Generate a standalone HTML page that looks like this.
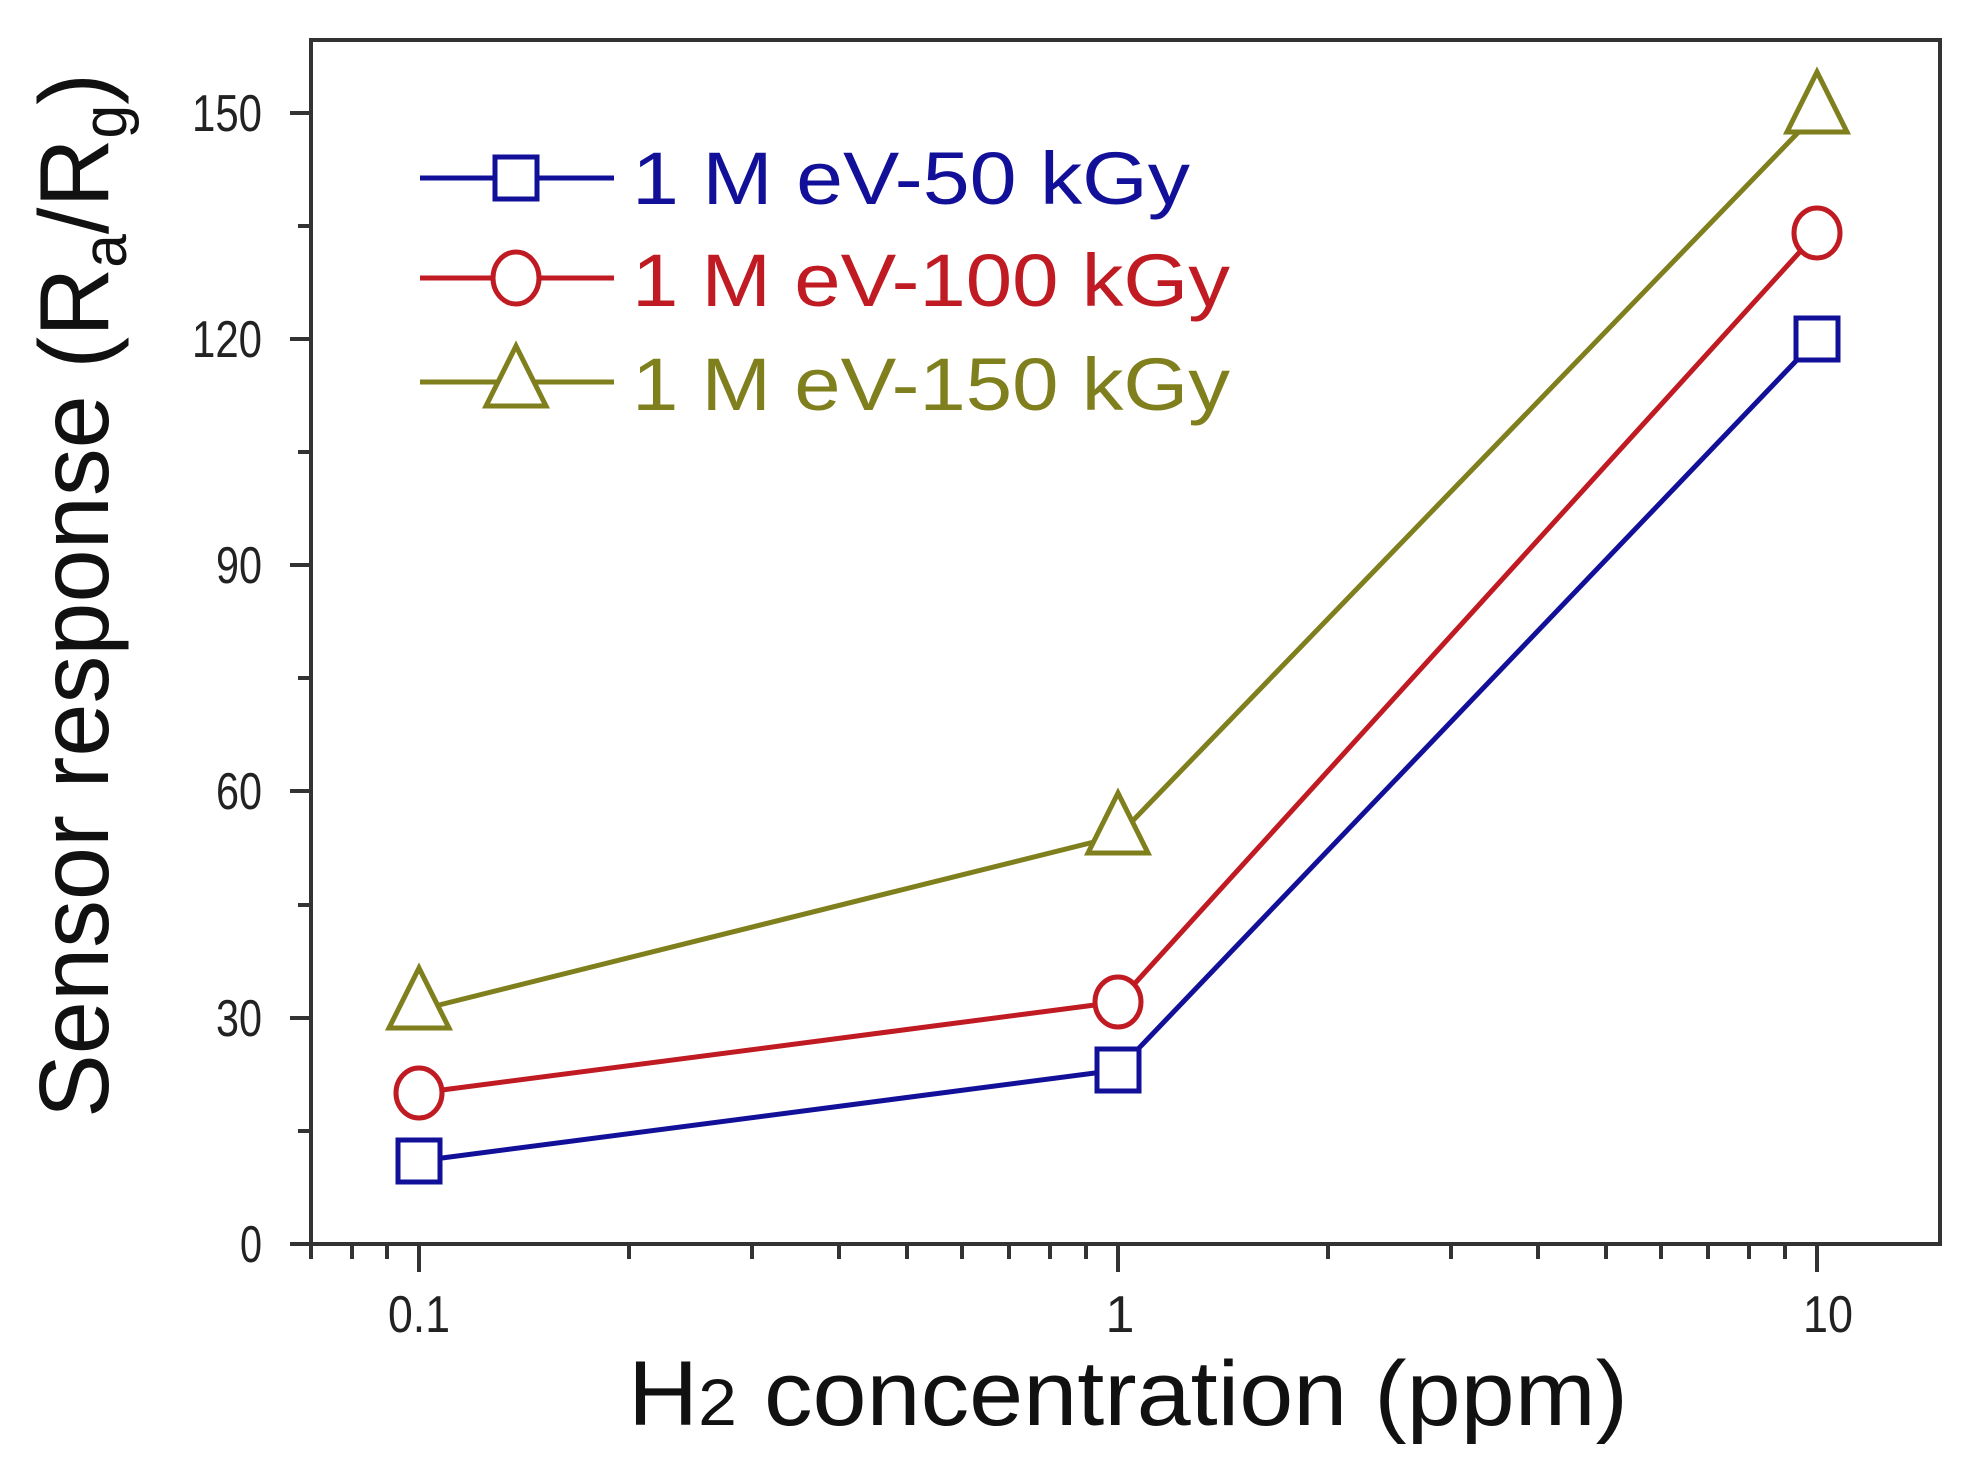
<!DOCTYPE html>
<html><head><meta charset="utf-8"><style>html,body{margin:0;padding:0;background:#fff}svg{display:block}</style></head>
<body>
<svg width="1980" height="1482" viewBox="0 0 1980 1482" xmlns="http://www.w3.org/2000/svg" font-family="Liberation Sans, Arial, sans-serif">
<rect width="1980" height="1482" fill="#fff"/>
<rect x="311" y="40" width="1629" height="1204" fill="none" stroke="#333" stroke-width="4"/>
<g stroke="#333" stroke-width="4">
<line x1="290" y1="1244" x2="311" y2="1244"/>
<line x1="290" y1="1018" x2="311" y2="1018"/>
<line x1="290" y1="791" x2="311" y2="791"/>
<line x1="290" y1="565" x2="311" y2="565"/>
<line x1="290" y1="339" x2="311" y2="339"/>
<line x1="290" y1="113" x2="311" y2="113"/>
<line x1="298" y1="1131" x2="311" y2="1131"/>
<line x1="298" y1="905" x2="311" y2="905"/>
<line x1="298" y1="678" x2="311" y2="678"/>
<line x1="298" y1="452" x2="311" y2="452"/>
<line x1="298" y1="226" x2="311" y2="226"/>
</g>
<g font-size="52" text-anchor="end" fill="#222">
<text x="262" y="1262" textLength="22" lengthAdjust="spacingAndGlyphs">0</text>
<text x="262" y="1036" textLength="46" lengthAdjust="spacingAndGlyphs">30</text>
<text x="262" y="809" textLength="46" lengthAdjust="spacingAndGlyphs">60</text>
<text x="262" y="583" textLength="46" lengthAdjust="spacingAndGlyphs">90</text>
<text x="262" y="357" textLength="70" lengthAdjust="spacingAndGlyphs">120</text>
<text x="262" y="131" textLength="70" lengthAdjust="spacingAndGlyphs">150</text>
</g>
<g stroke="#333" stroke-width="4">
<line x1="311" y1="1244" x2="311" y2="1259"/>
<line x1="352" y1="1244" x2="352" y2="1259"/>
<line x1="387" y1="1244" x2="387" y2="1259"/>
<line x1="419" y1="1244" x2="419" y2="1272"/>
<line x1="629" y1="1244" x2="629" y2="1259"/>
<line x1="752" y1="1244" x2="752" y2="1259"/>
<line x1="839" y1="1244" x2="839" y2="1259"/>
<line x1="907" y1="1244" x2="907" y2="1259"/>
<line x1="962" y1="1244" x2="962" y2="1259"/>
<line x1="1009" y1="1244" x2="1009" y2="1259"/>
<line x1="1050" y1="1244" x2="1050" y2="1259"/>
<line x1="1086" y1="1244" x2="1086" y2="1259"/>
<line x1="1118" y1="1244" x2="1118" y2="1272"/>
<line x1="1328" y1="1244" x2="1328" y2="1259"/>
<line x1="1451" y1="1244" x2="1451" y2="1259"/>
<line x1="1538" y1="1244" x2="1538" y2="1259"/>
<line x1="1606" y1="1244" x2="1606" y2="1259"/>
<line x1="1661" y1="1244" x2="1661" y2="1259"/>
<line x1="1708" y1="1244" x2="1708" y2="1259"/>
<line x1="1749" y1="1244" x2="1749" y2="1259"/>
<line x1="1785" y1="1244" x2="1785" y2="1259"/>
<line x1="1817" y1="1244" x2="1817" y2="1272"/>
</g>
<g font-size="52" text-anchor="middle" fill="#222">
<text x="419" y="1332" textLength="62" lengthAdjust="spacingAndGlyphs">0.1</text>
<text x="1120" y="1332">1</text>
<text x="1828" y="1332" textLength="50" lengthAdjust="spacingAndGlyphs">10</text>
</g>
<g fill="none" stroke-width="5">
<polyline points="419,1161 1118,1070 1817,339" stroke="#121098"/>
<polyline points="419,1093 1118,1002 1817,233" stroke="#c01a22"/>
<polyline points="419,1010 1118,836 1817,113" stroke="#7f7f1e"/>
</g>
<g fill="#fff" stroke-width="5">
<rect x="398" y="1140" width="42" height="42" stroke="#121098"/>
<rect x="1097" y="1049" width="42" height="42" stroke="#121098"/>
<rect x="1796" y="318" width="42" height="42" stroke="#121098"/>
<ellipse cx="419" cy="1093" rx="23" ry="25" stroke="#c01a22"/>
<ellipse cx="1118" cy="1002" rx="23" ry="25" stroke="#c01a22"/>
<ellipse cx="1817" cy="233" rx="23" ry="25" stroke="#c01a22"/>
<polygon points="419,968 449,1028 389,1028" stroke="#7f7f1e"/>
<polygon points="1118,793 1148,853 1088,853" stroke="#7f7f1e"/>
<polygon points="1817,72 1847,132 1787,132" stroke="#7f7f1e"/>
</g>
<g stroke-width="5">
<line x1="420" y1="178" x2="614" y2="178" stroke="#121098"/>
<rect x="495" y="157" width="42" height="42" fill="#fff" stroke="#121098"/>
<line x1="420" y1="278" x2="614" y2="278" stroke="#c01a22"/>
<ellipse cx="516" cy="278" rx="23" ry="26" fill="#fff" stroke="#c01a22"/>
<line x1="420" y1="382" x2="614" y2="382" stroke="#7f7f1e"/>
<polygon points="516,346 546,406 486,406" fill="#fff" stroke="#7f7f1e"/>
</g>
<g font-size="74">
<text x="632" y="204" fill="#121098" textLength="558" lengthAdjust="spacingAndGlyphs">1 M eV-50 kGy</text>
<text x="632" y="306" fill="#c01a22" textLength="598" lengthAdjust="spacingAndGlyphs">1 M eV-100 kGy</text>
<text x="632" y="410" fill="#7f7f1e" textLength="598" lengthAdjust="spacingAndGlyphs">1 M eV-150 kGy</text>
</g>
<text x="628" y="1425" font-size="92" fill="#111" textLength="1000" lengthAdjust="spacingAndGlyphs">H<tspan font-size="66">2</tspan> concentration (ppm)</text>
<text transform="translate(108,1118) rotate(-90)" font-size="98" fill="#111" textLength="1045" lengthAdjust="spacingAndGlyphs">Sensor response (R<tspan font-size="62" dy="18">a</tspan><tspan dy="-18">/R</tspan><tspan font-size="62" dy="18">g</tspan><tspan dy="-18">)</tspan></text>
</svg>
</body></html>
